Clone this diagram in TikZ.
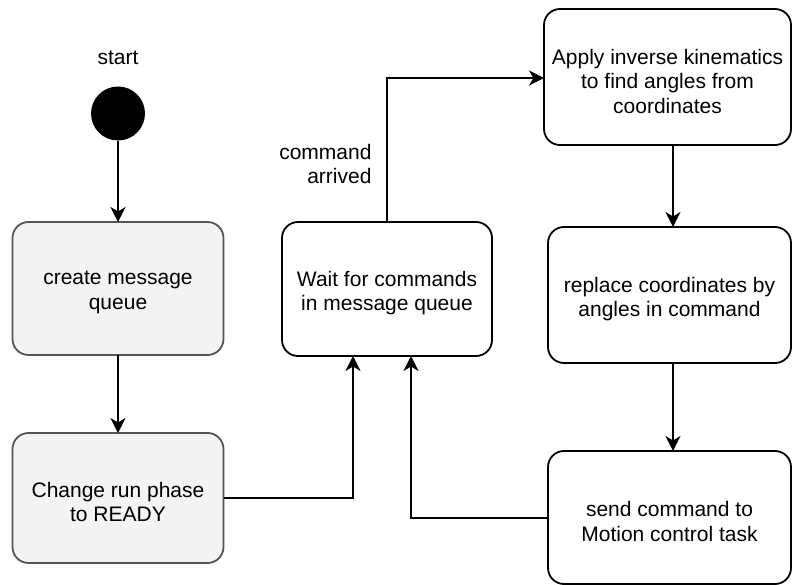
\documentclass[tikz,border=0pt]{standalone}
\usepackage{fontspec}
\setmainfont{Liberation Sans}
\usetikzlibrary{arrows.meta,calc}
\definecolor{greyfill}{HTML}{F3F3F3}
\definecolor{greyline}{HTML}{555555}
\begin{document}
\begin{tikzpicture}[x=1pt,y=-1pt,
  every node/.style={font=\fontsize{21}{24.5}\selectfont},
  state/.style={draw=black,line width=1.8pt,rounded corners=16pt,
    inner sep=0pt,outer sep=0pt},
  greystate/.style={state,fill=greyfill,draw=greyline},
  txt/.style={align=center,yshift=-4pt,inner sep=0pt},
  arr/.style={line width=1.8pt,-{Stealth[length=15pt,width=15pt,inset=4.5pt]}}]
\useasboundingbox (0,0) rectangle (792,585);

% initial state
\node (startlbl) at (118,58) {start};
\node[circle,fill=black,minimum size=54pt,inner sep=0pt] (init) at (118,113.5) {};

% left column
\node[greystate,minimum width=211pt,minimum height=133pt,
  label={[txt]center:create message\\queue}] (queue) at (118,288.5) {};
\node[greystate,minimum width=211pt,minimum height=130pt,
  label={[txt]center:Change run phase\\to READY}] (ready) at (118,498) {};

% waiting state
\node[state,minimum width=210pt,minimum height=134pt,
  label={[txt]center:Wait for commands\\in message queue}] (wait) at (387,289) {};

% right column
\node[state,minimum width=247pt,minimum height=136pt,
  label={[txt]center:Apply inverse kinematics\\to find angles from\\coordinates}]
  (ik) at (667.5,77) {};
\node[state,minimum width=243pt,minimum height=136pt,
  label={[txt]center:replace coordinates by\\angles in command}]
  (replace) at (669.5,295) {};
\node[state,minimum width=243pt,minimum height=133pt,
  label={[txt]center:send command to\\Motion control task}]
  (send) at (669.5,517.5) {};

\node[align=right,anchor=east] (cmdlbl) at (375,164) {command\\arrived};

% connectors
\draw[arr] (init) -- (queue);
\draw[arr] (queue) -- (ready);
\draw[arr] (ready.east) -| ([xshift=-34pt]wait.south);
\draw[arr] (wait.north) |- (ik.west |- 0,78);
\draw[arr] ([xshift=5.5pt]ik.south) -- ([xshift=3.5pt]replace.north);
\draw[arr] ([xshift=3.5pt]replace.south) -- ([xshift=3.5pt]send.north);
\draw[arr] (send.west |- 0,518) -| ([xshift=24pt]wait.south);
\end{tikzpicture}
\end{document}
